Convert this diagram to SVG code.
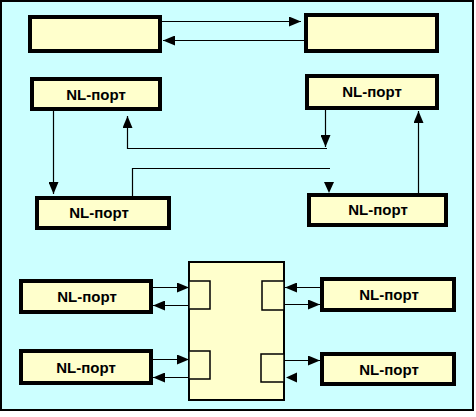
<svg xmlns="http://www.w3.org/2000/svg" width="476" height="417" viewBox="0 0 476 417">
<style>
.nl{fill:#FFFFCC;stroke:#000;stroke-width:4}
.sw{fill:#FFFFCC;stroke:#000;stroke-width:2}
.pt{fill:#FFFFCC;stroke:#000;stroke-width:1.5}
.t{font-family:"Liberation Sans",Arial,sans-serif;font-size:15px;font-weight:bold;text-anchor:middle;fill:#000}
.c{fill:none;stroke:#000;stroke-width:1.2}
.a{marker-end:url(#ah)}
.h{fill:#000}
</style>
<defs>
<marker id="ah" markerUnits="userSpaceOnUse" markerWidth="12" markerHeight="10" refX="12" refY="5" orient="auto">
<path d="M0,0 L12,5 L0,10 z" fill="#000"/>
</marker>
</defs>
<rect x="0" y="0" width="476" height="417" fill="#FFFFFF"/>
<rect x="1" y="1" width="472" height="409" fill="#CCFFFF" stroke="#000" stroke-width="2"/>

<g id="box-top-left"><rect class="nl" x="30" y="17" width="130" height="34"/></g>
<g id="box-top-right"><rect class="nl" x="306" y="15" width="131" height="36"/></g>

<g id="nl-1"><rect class="nl" x="32" y="79" width="128" height="30"/><text class="t" x="96" y="100">NL-порт</text></g>
<g id="nl-2"><rect class="nl" x="307" y="76" width="130" height="32"/><text class="t" x="372" y="97">NL-порт</text></g>
<g id="nl-3"><rect class="nl" x="37" y="198" width="132" height="30"/><text class="t" x="99" y="218">NL-порт</text></g>
<g id="nl-4"><rect class="nl" x="309" y="195" width="137" height="30"/><text class="t" x="378" y="215">NL-порт</text></g>

<g id="switch">
<rect class="sw" x="189" y="262" width="95" height="138"/>
<rect class="pt" x="189" y="281" width="21" height="28"/>
<rect class="pt" x="189" y="351" width="21" height="28"/>
<rect class="pt" x="262" y="281" width="22" height="29"/>
<rect class="pt" x="261" y="354" width="23" height="28"/>
</g>

<g id="nl-5"><rect class="nl" x="21" y="281" width="130" height="31"/><text class="t" x="87" y="302">NL-порт</text></g>
<g id="nl-6"><rect class="nl" x="21" y="351" width="130" height="32"/><text class="t" x="86" y="373">NL-порт</text></g>
<g id="nl-7"><rect class="nl" x="322" y="279" width="132" height="31"/><text class="t" x="389" y="300">NL-порт</text></g>
<g id="nl-8"><rect class="nl" x="322" y="354" width="132" height="30"/><text class="t" x="389" y="375">NL-порт</text></g>

<g id="connectors">
<line class="c a" x1="162" y1="21.5" x2="301" y2="21.5"/>
<line class="c a" x1="304" y1="40.5" x2="163" y2="40.5"/>

<line class="c a" x1="53.5" y1="111" x2="53.5" y2="194"/>
<polyline class="c a" points="327,148.5 127.5,148.5 127.5,116"/>
<line class="c a" x1="325.5" y1="110" x2="325.5" y2="147"/>
<polyline class="c" points="132.5,196 132.5,168.5 330,168.5"/>
<path class="h" d="M324,182 L334,182 L329,193 z"/>
<line class="c a" x1="418.5" y1="193" x2="418.5" y2="111"/>

<line class="c a" x1="153" y1="287.5" x2="189" y2="287.5"/>
<line class="c a" x1="189" y1="305.5" x2="153" y2="305.5"/>
<line class="c a" x1="153" y1="359.5" x2="189" y2="359.5"/>
<line class="c a" x1="189" y1="377.5" x2="153" y2="377.5"/>
<line class="c a" x1="320" y1="287.5" x2="285" y2="287.5"/>
<line class="c a" x1="284" y1="304.5" x2="320" y2="304.5"/>
<line class="c a" x1="284" y1="360.5" x2="320" y2="360.5"/>
<path class="h" d="M286,377.5 L297,372.5 L297,382.5 z"/>
</g>
</svg>
